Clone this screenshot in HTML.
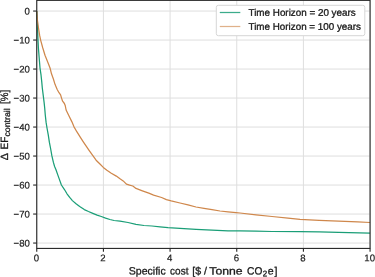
<!DOCTYPE html>
<html><head><meta charset="utf-8"><style>
html,body{margin:0;padding:0;background:#fff;width:375px;height:277px;overflow:hidden}
svg{display:block;will-change:transform;text-rendering:geometricPrecision}
text{font-family:"Liberation Sans",sans-serif;fill:#1a1a1a;stroke:#1a1a1a;stroke-width:0.3px}
text.tk{stroke-width:0.2px}
</style></head><body>
<svg width="375" height="277" viewBox="0 0 375 277">
<line x1="36.75" y1="0.35" x2="36.75" y2="248.42" stroke="#dedede" stroke-width="1.0"/>
<line x1="103.42" y1="0.35" x2="103.42" y2="248.42" stroke="#dedede" stroke-width="1.0"/>
<line x1="170.08" y1="0.35" x2="170.08" y2="248.42" stroke="#dedede" stroke-width="1.0"/>
<line x1="236.75" y1="0.35" x2="236.75" y2="248.42" stroke="#dedede" stroke-width="1.0"/>
<line x1="303.41" y1="0.35" x2="303.41" y2="248.42" stroke="#dedede" stroke-width="1.0"/>
<line x1="370.08" y1="0.35" x2="370.08" y2="248.42" stroke="#dedede" stroke-width="1.0"/>
<line x1="36.75" y1="11.05" x2="370.08" y2="11.05" stroke="#dedede" stroke-width="1.0"/>
<line x1="36.75" y1="40.05" x2="370.08" y2="40.05" stroke="#dedede" stroke-width="1.0"/>
<line x1="36.75" y1="69.05" x2="370.08" y2="69.05" stroke="#dedede" stroke-width="1.0"/>
<line x1="36.75" y1="98.05" x2="370.08" y2="98.05" stroke="#dedede" stroke-width="1.0"/>
<line x1="36.75" y1="127.05" x2="370.08" y2="127.05" stroke="#dedede" stroke-width="1.0"/>
<line x1="36.75" y1="156.05" x2="370.08" y2="156.05" stroke="#dedede" stroke-width="1.0"/>
<line x1="36.75" y1="185.05" x2="370.08" y2="185.05" stroke="#dedede" stroke-width="1.0"/>
<line x1="36.75" y1="214.05" x2="370.08" y2="214.05" stroke="#dedede" stroke-width="1.0"/>
<line x1="36.75" y1="243.05" x2="370.08" y2="243.05" stroke="#dedede" stroke-width="1.0"/>
<polyline points="36.75,11.05 37.00,17.00 37.40,25.00 37.90,38.00 38.40,48.00 39.20,58.00 40.00,68.00 41.05,75.20 41.80,82.40 42.30,88.00 43.20,95.20 44.10,102.40 44.70,108.00 45.30,115.20 46.10,122.40 47.00,128.00 48.30,135.20 49.40,142.40 50.50,148.00 51.90,155.90 53.40,162.40 54.60,166.50 55.80,169.30 57.60,174.40 59.40,179.40 61.40,185.00 64.30,189.30 67.00,193.80 69.70,197.40 72.40,200.60 76.05,203.80 79.70,206.50 84.30,209.60 88.50,211.50 92.80,213.30 97.10,215.10 101.30,216.50 105.60,218.10 109.90,219.50 114.10,220.50 120.00,221.10 128.00,222.50 136.00,224.40 144.00,225.50 152.00,226.00 160.00,226.80 168.00,227.60 180.00,228.30 196.00,229.40 212.00,230.20 228.00,230.80 240.00,230.90 256.00,231.10 272.00,231.50 300.00,231.60 319.20,231.90 338.40,232.40 370.08,233.20" fill="none" stroke="#1a9e77" stroke-width="1.25" stroke-linejoin="round"/>
<polyline points="36.75,11.05 37.40,20.00 38.50,28.00 39.60,35.20 40.70,40.30 42.80,48.00 45.00,55.20 47.90,62.40 50.05,68.00 51.50,73.80 53.30,78.80 55.10,84.60 57.20,89.50 59.00,92.70 60.60,94.90 61.55,98.10 62.60,101.20 64.40,103.50 65.30,105.80 66.10,110.00 68.90,115.80 71.80,121.60 73.90,126.60 76.80,131.70 80.40,137.40 83.30,141.80 86.20,146.10 88.90,150.10 92.50,155.20 96.10,160.20 99.70,163.80 103.30,167.40 106.90,170.30 111.30,173.20 116.30,176.10 120.00,178.80 123.20,180.90 126.40,184.10 129.60,185.20 132.80,186.00 136.00,188.40 142.40,190.80 148.80,193.20 153.60,195.10 161.60,197.50 166.40,199.60 171.20,200.90 180.00,203.00 188.00,204.90 196.00,207.00 204.00,208.30 212.00,209.70 220.00,211.00 228.00,211.80 236.00,212.60 240.00,213.00 256.00,214.90 272.00,216.50 288.00,218.10 300.00,219.40 319.20,220.40 338.40,221.10 357.60,221.90 370.08,222.50" fill="none" stroke="#cf874b" stroke-width="1.25" stroke-linejoin="round"/>
<rect x="36.75" y="0.35" width="333.33" height="248.07" fill="none" stroke="#262626" stroke-width="1.1"/>
<line x1="36.75" y1="248.42" x2="36.75" y2="251.82" stroke="#262626" stroke-width="1.1"/>
<line x1="103.42" y1="248.42" x2="103.42" y2="251.82" stroke="#262626" stroke-width="1.1"/>
<line x1="170.08" y1="248.42" x2="170.08" y2="251.82" stroke="#262626" stroke-width="1.1"/>
<line x1="236.75" y1="248.42" x2="236.75" y2="251.82" stroke="#262626" stroke-width="1.1"/>
<line x1="303.41" y1="248.42" x2="303.41" y2="251.82" stroke="#262626" stroke-width="1.1"/>
<line x1="370.08" y1="248.42" x2="370.08" y2="251.82" stroke="#262626" stroke-width="1.1"/>
<line x1="33.15" y1="11.05" x2="36.75" y2="11.05" stroke="#262626" stroke-width="1.1"/>
<line x1="33.15" y1="40.05" x2="36.75" y2="40.05" stroke="#262626" stroke-width="1.1"/>
<line x1="33.15" y1="69.05" x2="36.75" y2="69.05" stroke="#262626" stroke-width="1.1"/>
<line x1="33.15" y1="98.05" x2="36.75" y2="98.05" stroke="#262626" stroke-width="1.1"/>
<line x1="33.15" y1="127.05" x2="36.75" y2="127.05" stroke="#262626" stroke-width="1.1"/>
<line x1="33.15" y1="156.05" x2="36.75" y2="156.05" stroke="#262626" stroke-width="1.1"/>
<line x1="33.15" y1="185.05" x2="36.75" y2="185.05" stroke="#262626" stroke-width="1.1"/>
<line x1="33.15" y1="214.05" x2="36.75" y2="214.05" stroke="#262626" stroke-width="1.1"/>
<line x1="33.15" y1="243.05" x2="36.75" y2="243.05" stroke="#262626" stroke-width="1.1"/>
<rect x="216.3" y="5.3" width="148.5" height="30.4" rx="2" ry="2" fill="#fff" stroke="#d6d6d6" stroke-width="1"/>
<line x1="219.8" y1="12.5" x2="240.3" y2="12.5" stroke="#1a9e77" stroke-width="1.25" stroke-opacity="0.85"/>
<line x1="219.8" y1="26.5" x2="240.3" y2="26.5" stroke="#cf874b" stroke-width="1.25" stroke-opacity="0.65"/>
<text id="yt0" transform="matrix(1.0000,0.0005,0,1,0.000,-0.0149)" x="29.90" y="14.45" font-size="9.6" text-anchor="end" class="tk">0</text>
<text id="yt10" transform="matrix(1.0000,0.0005,0,1,0.000,-0.0149)" x="29.90" y="43.45" font-size="9.6" text-anchor="end" class="tk">−10</text>
<text id="yt20" transform="matrix(1.0000,0.0005,0,1,0.000,-0.0149)" x="29.90" y="72.45" font-size="9.6" text-anchor="end" class="tk">−20</text>
<text id="yt30" transform="matrix(1.0000,0.0005,0,1,0.000,-0.0149)" x="29.90" y="101.45" font-size="9.6" text-anchor="end" class="tk">−30</text>
<text id="yt40" transform="matrix(1.0000,0.0005,0,1,0.000,-0.0149)" x="29.90" y="130.45" font-size="9.6" text-anchor="end" class="tk">−40</text>
<text id="yt50" transform="matrix(1.0000,0.0005,0,1,0.000,-0.0149)" x="29.90" y="159.45" font-size="9.6" text-anchor="end" class="tk">−50</text>
<text id="yt60" transform="matrix(1.0000,0.0005,0,1,0.000,-0.0149)" x="29.90" y="188.45" font-size="9.6" text-anchor="end" class="tk">−60</text>
<text id="yt70" transform="matrix(1.0000,0.0005,0,1,0.000,-0.0149)" x="29.90" y="217.45" font-size="9.6" text-anchor="end" class="tk">−70</text>
<text id="yt80" transform="matrix(1.0000,0.0005,0,1,0.000,-0.0149)" x="29.90" y="246.45" font-size="9.6" text-anchor="end" class="tk">−80</text>
<text id="xt0" transform="matrix(1.0000,0.0005,0,1,0.000,-0.0182)" x="36.35" y="261.30" font-size="9.6" text-anchor="middle" class="tk">0</text>
<text id="xt2" transform="matrix(1.0000,0.0005,0,1,0.000,-0.0515)" x="103.02" y="261.30" font-size="9.6" text-anchor="middle" class="tk">2</text>
<text id="xt4" transform="matrix(1.0000,0.0005,0,1,0.000,-0.0848)" x="169.68" y="261.30" font-size="9.6" text-anchor="middle" class="tk">4</text>
<text id="xt6" transform="matrix(1.0000,0.0005,0,1,0.000,-0.1182)" x="236.35" y="261.30" font-size="9.6" text-anchor="middle" class="tk">6</text>
<text id="xt8" transform="matrix(1.0000,0.0005,0,1,0.000,-0.1515)" x="303.01" y="261.30" font-size="9.6" text-anchor="middle" class="tk">8</text>
<text id="xt10" transform="matrix(1.0000,0.0005,0,1,0.000,-0.1848)" x="369.68" y="261.30" font-size="9.6" text-anchor="middle" class="tk">10</text>
<text id="xl_specific" transform="matrix(0.9959,0.0005,0,1,0.527,-0.0644)" x="128.80" y="274.45" font-size="10.6">Specific</text>
<text id="xl_cost" transform="matrix(0.9455,0.0005,0,1,9.263,-0.0850)" x="170.07" y="274.45" font-size="10.6">cost</text>
<text id="xl_bd" transform="matrix(1.0000,0.0005,0,1,0.000,-0.0962)" x="192.30" y="274.45" font-size="10.6">[$</text>
<text id="xl_sl" transform="matrix(1.0000,0.0005,0,1,0.000,-0.1020)" x="204.10" y="274.45" font-size="10.6">/</text>
<text id="xl_tonne" transform="matrix(1.1509,0.0005,0,1,-31.585,-0.1046)" x="209.30" y="274.45" font-size="10.6">Tonne</text>
<text id="xl_co" transform="matrix(0.9610,0.0005,0,1,9.625,-0.1235)" x="247.06" y="274.45" font-size="10.6">CO</text>
<text id="xl_2" transform="matrix(1.0000,0.0005,0,1,0.000,-0.1314)" x="262.82" y="276.20" font-size="8.0">2</text>
<text id="xl_e" transform="matrix(1.0000,0.0005,0,1,0.000,-0.1339)" x="267.80" y="274.45" font-size="10.6">e</text>
<text id="xl_br" transform="matrix(1.0000,0.0005,0,1,0.000,-0.1373)" x="274.55" y="274.45" font-size="10.6">]</text>
<text id="yl_delta" transform="translate(7.50,160.26) rotate(-90) scale(1.0015,1)" x="0" y="0" font-size="10.6">Δ</text>
<text id="yl_ef" transform="translate(7.50,149.45) rotate(-90) scale(0.9392,1)" x="0" y="0" font-size="10.6">EF</text>
<text id="yl_sub" transform="translate(9.55,136.50) rotate(-90) scale(1.0279,1)" x="0" y="0" font-size="8.5">contrail</text>
<text id="yl_pct" transform="translate(7.50,103.95) rotate(-90) scale(0.9217,1)" x="0" y="0" font-size="10.6">[%]</text>
<text id="lg1" transform="matrix(1.0260,0.0005,0,1,-6.453,-0.1243)" x="248.54" y="15.73" font-size="9.6">Time Horizon = 20 years</text>
<text id="lg2" transform="matrix(1.0247,0.0005,0,1,-6.146,-0.1243)" x="248.54" y="29.73" font-size="9.6">Time Horizon = 100 years</text>
</svg>
</body></html>
